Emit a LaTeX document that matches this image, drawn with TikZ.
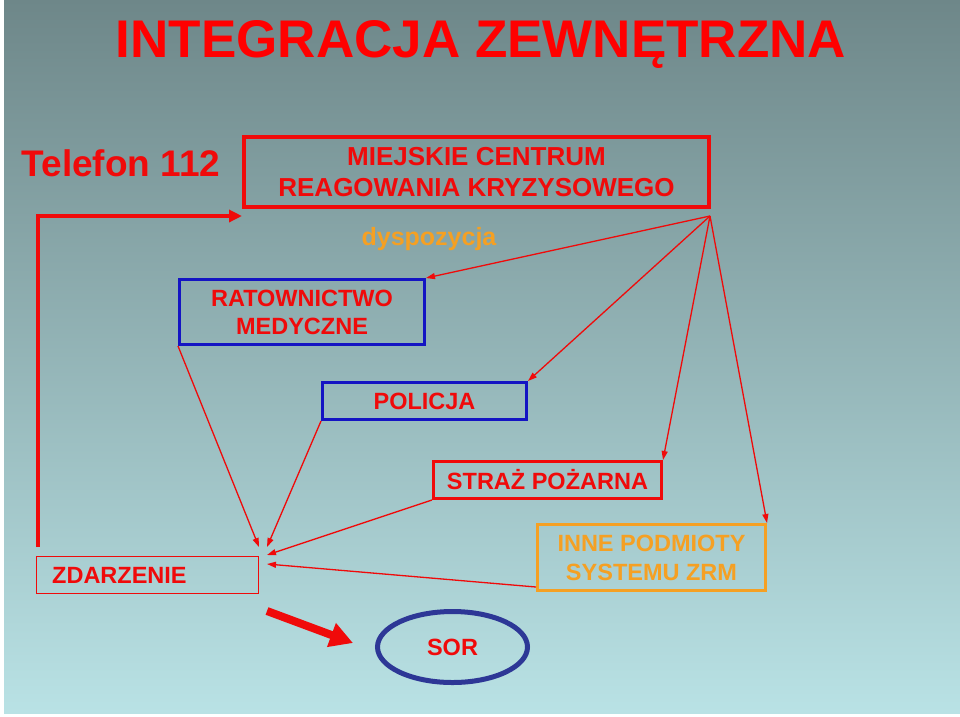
\documentclass[tikz,border=0pt]{standalone}
\usepackage{fontspec}
\setmainfont{Liberation Sans}[BoldFont={* Bold}]
\usetikzlibrary{arrows.meta,shapes.geometric}
\definecolor{myred}{RGB}{240,10,10}
\definecolor{myblue}{RGB}{20,20,195}
\definecolor{sorblue}{RGB}{45,55,150}
\definecolor{myorange}{RGB}{245,160,35}
\definecolor{bgtop}{RGB}{110,135,137}
\definecolor{bgbot}{RGB}{185,226,229}
\tikzset{
  box/.style={draw, rectangle, inner sep=0pt, align=center, text=myred, font=\bfseries\fontsize{23.5}{28}\selectfont},
  thinarrow/.style={draw=myred, line width=1.3pt, -{Triangle[length=9pt 0,width=6pt 0]}},
  txt/.style={inner sep=0pt, font=\bfseries}
}
\begin{document}
\begin{tikzpicture}[x=1pt,y=-1pt]
\useasboundingbox (0,0) rectangle (960,716);
\fill[white] (0,0) rectangle (960,716);
\shade[top color=bgtop, bottom color=bgbot] (4,0) rectangle (960,713);

% title
\node[txt, anchor=base, text=red, font=\bfseries\fontsize{53}{60}\selectfont] (title) at (481,57) {INTEGRACJA ZEWNĘTRZNA};
\node[txt, text=myred, font=\bfseries\fontsize{37}{40}\selectfont] (tel) at (121,163) {Telefon 112};

% boxes
\node[box, draw=myred, line width=4pt, minimum width=465pt, minimum height=70pt,
      font=\bfseries\fontsize{26}{31}\selectfont] (mcrk) at (476.5,172) {MIEJSKIE CENTRUM\\REAGOWANIA KRYZYSOWEGO};
\node[txt, anchor=base, text=myorange, font=\bfseries\fontsize{25}{30}\selectfont] (dysp) at (429,245) {dyspozycja};
\node[box, draw=myblue, line width=3pt, minimum width=245pt, minimum height=65pt] (rat) at (302,312) {RATOWNICTWO\\MEDYCZNE};
\node[box, draw=myblue, line width=3pt, minimum width=204pt, minimum height=37pt] (pol) at (424.5,401) {POLICJA};
\node[box, draw=myred, line width=3pt, minimum width=228pt, minimum height=37pt] (straz) at (547.5,480) {STRAŻ POŻARNA};
\node[box, draw=myorange, line width=3pt, minimum width=228pt, minimum height=66pt, text=myorange,
      font=\bfseries\fontsize{23.5}{29}\selectfont] (inne) at (651.5,557.5) {INNE PODMIOTY\\SYSTEMU ZRM};
\node[box, draw=myred, line width=1.5pt, minimum width=222pt, minimum height=37pt] (zd) at (147.5,575) {};
\node[txt, anchor=west, text=myred, font=\bfseries\fontsize{23.5}{28}\selectfont] (zdt) at (52,575) {ZDARZENIE};
\node[draw=sorblue, line width=5pt, ellipse, minimum width=150pt, minimum height=71pt, inner sep=0pt,
      text=myred, font=\bfseries\fontsize{23.5}{28}\selectfont] (sor) at (452.5,647) {SOR};

% coordinates
\coordinate (fan) at (710,216);
\coordinate (t0) at (38,547);
\coordinate (t1) at (242,216);
\coordinate (z1) at (259,547);
\coordinate (z2) at (267,547);
\coordinate (z3) at (267,555);
\coordinate (z4) at (267,564);
\coordinate (sa) at (267,611);
\coordinate (sb) at (353,643);

% telefon line
\draw[myred, line width=4pt, -{Triangle[length=13pt 0,width=12pt 0]}] (t0) |- (t1);

% fan arrows
\draw[thinarrow] (fan) -- (rat.north east);
\draw[thinarrow] (fan) -- (pol.north east);
\draw[thinarrow] (fan) -- (straz.north east);
\draw[thinarrow] (fan) -- (inne.north east);

% arrows into zdarzenie
\draw[thinarrow] (rat.south west) -- (z1);
\draw[thinarrow] (pol.south west) -- (z2);
\draw[thinarrow] (straz.south west) -- (z3);
\draw[thinarrow] ([yshift=5pt]inne.south west) -- (z4);

% big arrow to SOR
\draw[myred, line width=8pt, -{Triangle[length=23pt 0,width=24pt 0]}] (sa) -- (sb);
\end{tikzpicture}
\end{document}
